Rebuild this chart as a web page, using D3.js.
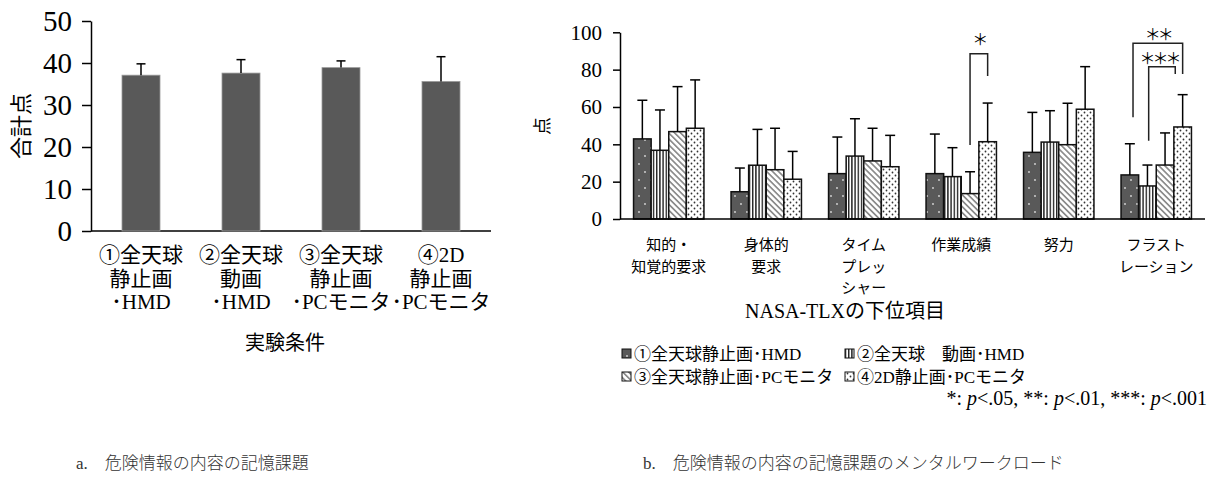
<!DOCTYPE html>
<html>
<head>
<meta charset="utf-8">
<script src="https://cdn.jsdelivr.net/npm/d3@7/dist/d3.min.js"></script>
<style>
  html, body { margin: 0; padding: 0; background: #fff; }
  svg { display: block; }
  text { font-family: "Liberation Serif", "Noto Sans CJK JP", serif; fill: #000; }
</style>
</head>
<body>
<svg id="chart" width="1212" height="499"></svg>
<script>
// ---------- Data: chart a ----------
const condLabels = [
  ["①全天球", "静止画", "･HMD"],
  ["②全天球", "動画", "･HMD"],
  ["③全天球", "静止画", "･PCモニタ"],
  ["④2D", "静止画", "･PCモニタ"]
];
const totalMeans = [37.1, 37.6, 38.9, 35.6];
const totalErrTops = [39.8, 40.8, 40.5, 41.5];
const totalTicks = [0, 10, 20, 30, 40, 50];

// ---------- Data: chart b ----------
const tlxCategories = [
  ["知的・", "知覚的要求"],
  ["身体的", "要求"],
  ["タイム", "プレッ", "シャー"],
  ["作業成績"],
  ["努力"],
  ["フラスト", "レーション"]
];
const seriesNames = [
  "①全天球静止画･HMD",
  "②全天球　動画･HMD",
  "③全天球静止画･PCモニタ",
  "④2D静止画･PCモニタ"
];
const s1Means = [42.9, 14.6, 24.3, 24.3, 35.7, 23.6];
const s2Means = [36.8, 28.8, 33.7, 22.7, 41.2, 17.7];
const s3Means = [46.8, 26.4, 31.1, 13.6, 39.8, 28.9];
const s4Means = [48.6, 21.3, 28.0, 41.4, 58.8, 49.3];
const s1ErrTops = [63.6, 27.3, 43.9, 45.5, 57.1, 40.3];
const s2ErrTops = [58.4, 48.0, 53.7, 38.2, 58.0, 28.9];
const s3ErrTops = [70.9, 48.6, 48.6, 25.3, 62.0, 46.1];
const s4ErrTops = [74.5, 36.2, 44.8, 62.1, 81.6, 66.6];
const tlxTicks = [0, 20, 40, 60, 80, 100];
// significance brackets: group, from-series pos, to-series pos, top, left leg end, right leg end, label
const sigGroups = [3, 5, 5];
const sigFrom = [2.5, 0.68, 1.57];
const sigTo = [3.5, 3.5, 3.08];
const sigTop = [88.5, 94.1, 81.6];
const sigLeftEnd = [39.6, 54.5, 41.9];
const sigRightEnd = [76.6, 77.7, 77.7];
const sigLabels = ["＊", "＊＊", "＊＊＊"];

const svg = d3.select("#chart");
const defs = svg.append("defs");

// patterns
const p1 = defs.append("pattern").attr("id", "pat1").attr("patternUnits", "userSpaceOnUse")
  .attr("width", 12).attr("height", 16);
p1.append("rect").attr("width", 12).attr("height", 16).attr("fill", "#595959");
p1.append("circle").attr("cx", 3).attr("cy", 4).attr("r", 0.9).attr("fill", "#d9d9d9");
p1.append("circle").attr("cx", 9).attr("cy", 12).attr("r", 0.9).attr("fill", "#d9d9d9");

const p2 = defs.append("pattern").attr("id", "pat2").attr("patternUnits", "userSpaceOnUse")
  .attr("width", 3.2).attr("height", 4);
p2.append("rect").attr("width", 3.2).attr("height", 4).attr("fill", "#fff");
p2.append("rect").attr("x", 0).attr("width", 1.4).attr("height", 4).attr("fill", "#222");

const p3 = defs.append("pattern").attr("id", "pat3").attr("patternUnits", "userSpaceOnUse")
  .attr("width", 4.2).attr("height", 4.2).attr("patternTransform", "rotate(-45)");
p3.append("rect").attr("width", 4.2).attr("height", 4.2).attr("fill", "#fff");
p3.append("rect").attr("x", 0).attr("width", 1.7).attr("height", 4.2).attr("fill", "#8c8c8c");

const p4 = defs.append("pattern").attr("id", "pat4").attr("patternUnits", "userSpaceOnUse")
  .attr("width", 6).attr("height", 6);
p4.append("rect").attr("width", 6).attr("height", 6).attr("fill", "#fff");
p4.append("circle").attr("cx", 1.5).attr("cy", 1.5).attr("r", 0.9).attr("fill", "#333");
p4.append("circle").attr("cx", 4.5).attr("cy", 4.5).attr("r", 0.9).attr("fill", "#333");

const fills = ["url(#pat1)", "url(#pat2)", "url(#pat3)", "url(#pat4)"];

// ================= Chart a =================
const ga = svg.append("g");
const xa = d3.scaleBand().domain(d3.range(4)).range([91, 491]).paddingInner(0.62).paddingOuter(0.31);
const ya = d3.scaleLinear().domain([0, 50]).range([231, 21]);

const yAxisA = d3.axisLeft(ya).tickValues(totalTicks).tickSize(9).tickSizeOuter(0).tickPadding(10);
const gya = ga.append("g").attr("transform", "translate(91,0)").call(yAxisA);
gya.select(".domain").attr("stroke", "#000").attr("stroke-width", 1.5);
gya.selectAll(".tick line").attr("stroke", "#000").attr("stroke-width", 1.5);
gya.selectAll(".tick text").style("font-size", "29px").style("font-family", "Liberation Serif");

ga.append("line").attr("x1", 91).attr("x2", 491).attr("y1", ya(0)).attr("y2", ya(0))
  .attr("stroke", "#000").attr("stroke-width", 1.5);

ga.selectAll("rect.bar").data(totalMeans).enter().append("rect")
  .attr("x", (d, i) => xa(i)).attr("width", xa.bandwidth())
  .attr("y", d => ya(d)).attr("height", d => ya(0) - ya(d))
  .attr("fill", "#595959").attr("stroke", "#9a9a9a").attr("stroke-width", 0.8);

totalErrTops.forEach((e, i) => {
  const cx = xa(i) + xa.bandwidth() / 2;
  ga.append("line").attr("x1", cx).attr("x2", cx).attr("y1", ya(totalMeans[i])).attr("y2", ya(e))
    .attr("stroke", "#000").attr("stroke-width", 1.5);
  ga.append("line").attr("x1", cx - 4.5).attr("x2", cx + 4.5).attr("y1", ya(e)).attr("y2", ya(e))
    .attr("stroke", "#000").attr("stroke-width", 1.5);
});

condLabels.forEach((lines, i) => {
  const cx = xa(i) + xa.bandwidth() / 2;
  const t = ga.append("text").attr("text-anchor", "middle").style("font-size", "21px");
  lines.forEach((l, k) => {
    t.append("tspan").attr("x", cx).attr("y", 262 + k * 23.5).text(l);
  });
});
ga.append("text").attr("x", 285).attr("y", 350).attr("text-anchor", "middle")
  .style("font-size", "20px").style("font-family", "Noto Sans CJK JP").text("実験条件");
ga.append("text").attr("transform", "translate(29,126) rotate(-90)").attr("text-anchor", "middle")
  .style("font-size", "22px").style("font-family", "Noto Sans CJK JP").text("合計点");

// ================= Chart b =================
const gb = svg.append("g");
const x0 = d3.scaleBand().domain(d3.range(6)).range([620, 1205]).paddingInner(0.278).paddingOuter(0.139);
const x1 = d3.scaleBand().domain(d3.range(4)).range([0, x0.bandwidth()]);
const yb = d3.scaleLinear().domain([0, 100]).range([219, 32.3]);

const yAxisB = d3.axisLeft(yb).tickValues(tlxTicks).tickSize(7).tickSizeOuter(0).tickPadding(11);
const gyb = gb.append("g").attr("transform", "translate(620,0)").call(yAxisB);
gyb.select(".domain").attr("stroke", "#000").attr("stroke-width", 1.5);
gyb.selectAll(".tick line").attr("stroke", "#000").attr("stroke-width", 1.5);
gyb.selectAll(".tick text").style("font-size", "21px").style("font-family", "Liberation Serif");

const meansAll = [s1Means, s2Means, s3Means, s4Means];
const errAll = [s1ErrTops, s2ErrTops, s3ErrTops, s4ErrTops];

meansAll.forEach((vals, s) => {
  gb.selectAll("rect.s" + s).data(vals).enter().append("rect")
    .attr("x", (d, g) => x0(g) + x1(s)).attr("width", x1.bandwidth())
    .attr("y", d => yb(d)).attr("height", d => yb(0) - yb(d))
    .attr("fill", fills[s]).attr("stroke", "#111").attr("stroke-width", 1.5);
});
errAll.forEach((vals, s) => {
  vals.forEach((e, g) => {
    const cx = x0(g) + x1(s) + x1.bandwidth() / 2;
    gb.append("line").attr("x1", cx).attr("x2", cx).attr("y1", yb(meansAll[s][g])).attr("y2", yb(e))
      .attr("stroke", "#000").attr("stroke-width", 1.5);
    gb.append("line").attr("x1", cx - 5).attr("x2", cx + 5).attr("y1", yb(e)).attr("y2", yb(e))
      .attr("stroke", "#000").attr("stroke-width", 1.5);
  });
});
gb.append("line").attr("x1", 620).attr("x2", 1205).attr("y1", yb(0)).attr("y2", yb(0))
  .attr("stroke", "#000").attr("stroke-width", 1.5);

// significance brackets
const subPos = (g, p) => x0(g) + p * x1.bandwidth();
sigGroups.forEach((g, i) => {
  const xl = subPos(g, sigFrom[i]), xr = subPos(g, sigTo[i]);
  const yt = yb(sigTop[i]);
  gb.append("path")
    .attr("d", `M${xl},${yb(sigLeftEnd[i])}V${yt}H${xr}V${yb(sigRightEnd[i])}`)
    .attr("fill", "none").attr("stroke", "#222").attr("stroke-width", 1.5);
  gb.append("text").attr("x", (xl + xr) / 2 + (i === 2 ? -3 : 0)).attr("y", yt - (i === 0 ? 9 : 3))
    .attr("text-anchor", "middle").style("font-size", "16px").style("font-family", "Noto Sans CJK JP")
    .style("letter-spacing", "-3px").text(sigLabels[i]);
});

tlxCategories.forEach((lines, g) => {
  const cx = x0(g) + x0.bandwidth() / 2;
  const t = gb.append("text").attr("text-anchor", "middle").style("font-size", "15px")
    .style("font-family", "Noto Sans CJK JP");
  lines.forEach((l, k) => {
    t.append("tspan").attr("x", cx).attr("y", 250 + k * 21.5).text(l);
  });
});
gb.append("text").attr("x", 845).attr("y", 318).attr("text-anchor", "middle").style("font-size", "20px")
  .text("NASA-TLXの下位項目");
gb.append("text").attr("transform", "translate(549,126) rotate(-90)").attr("text-anchor", "middle")
  .style("font-size", "18px").style("font-family", "Noto Sans CJK JP").text("点");

// legend
const legX = [622, 845];
const legY = [354, 377];
seriesNames.forEach((name, s) => {
  const lx = legX[s % 2], ly = legY[Math.floor(s / 2)];
  gb.append("rect").attr("x", lx).attr("y", ly - 5).attr("width", 9).attr("height", 9)
    .attr("fill", fills[s]).attr("stroke", "#111").attr("stroke-width", 1);
  gb.append("text").attr("x", lx + 12).attr("y", ly).attr("dominant-baseline", "central")
    .style("font-size", "17px").text(name);
});
const note = gb.append("text").attr("x", 1207).attr("y", 405).attr("text-anchor", "end").style("font-size", "20px");
[["*: ", false], ["p", true], ["<.05, **: ", false], ["p", true], ["<.01, ***: ", false], ["p", true], ["<.001", false]]
  .forEach(([t, it]) => note.append("tspan").style("font-style", it ? "italic" : "normal").text(t));

// captions
svg.append("text").attr("x", 76).attr("y", 469).style("font-size", "17px").style("fill", "#333")
  .style("font-weight", 300).text("a.　危険情報の内容の記憶課題");
svg.append("text").attr("x", 643).attr("y", 469).style("font-size", "17px").style("fill", "#333")
  .style("font-weight", 300).text("b.　危険情報の内容の記憶課題のメンタルワークロード");
</script>
</body>
</html>
